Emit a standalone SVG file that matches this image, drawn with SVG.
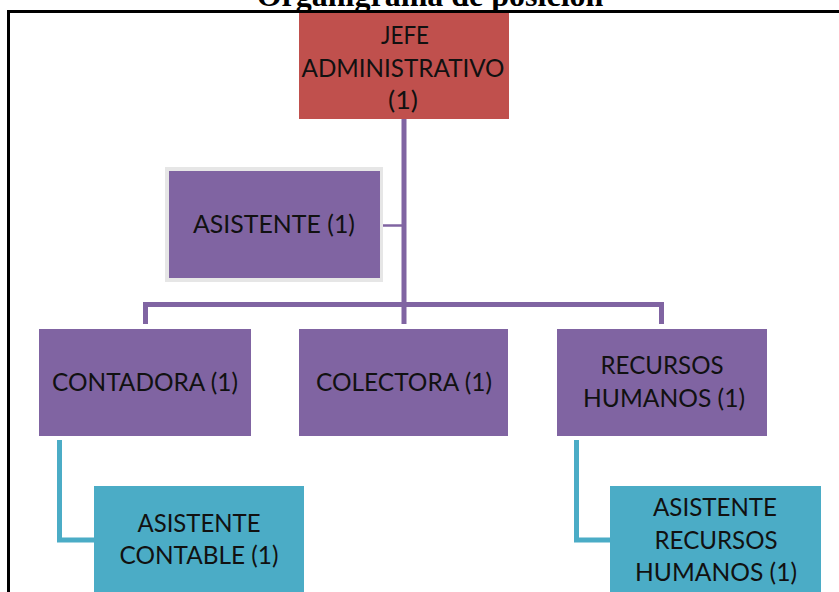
<svg xmlns="http://www.w3.org/2000/svg" width="839" height="592" viewBox="0 0 839 592">
<style>
.t{font-family:"Lato","Open Sans",sans-serif;font-size:25px;fill:#111;}
.red{fill:#C0504D;}
.pur{fill:#8064A2;}
.teal{fill:#4BACC6;}
.pl{stroke:#8064A2;stroke-width:5;fill:none;}
.tl{stroke:#4BACC6;stroke-width:5;fill:none;}
</style>
<rect width="839" height="592" fill="#fff"/>
<text x="430" y="6" text-anchor="middle" font-family="'Liberation Serif',serif" font-weight="bold" font-size="32" fill="#000">Organigrama de posición</text>
<path d="M8.5 592 V11.5 H839" stroke="#000" stroke-width="3" fill="none"/>
<g id="connectors">
<path class="pl" d="M404 119 V324"/>
<path class="pl" d="M145.5 324 V304.5 H661.5 V324"/>
<path d="M380 225.5 H404" stroke="#8064A2" stroke-width="2.5"/>
<path class="tl" d="M59.5 440 V540 H94"/>
<path class="tl" d="M576.5 440 V540 H610"/>
</g>
<g id="jefe">
<rect class="red" x="299" y="13" width="210" height="106"/>
<text class="t" x="405" y="44" text-anchor="middle" textLength="48" lengthAdjust="spacingAndGlyphs">JEFE</text>
<text class="t" x="403" y="77" text-anchor="middle" textLength="203" lengthAdjust="spacingAndGlyphs">ADMINISTRATIVO</text>
<text class="t" x="403" y="109" text-anchor="middle" textLength="30" lengthAdjust="spacingAndGlyphs">(1)</text>
</g>
<g id="asistente">
<rect x="165" y="167" width="218" height="115" fill="#e6e6e6"/>
<rect class="pur" x="169" y="171" width="211" height="107"/>
<text class="t" x="274" y="233" text-anchor="middle" textLength="162" lengthAdjust="spacingAndGlyphs">ASISTENTE (1)</text>
</g>
<g id="contadora">
<rect class="pur" x="39" y="329" width="212" height="107"/>
<text class="t" x="145" y="391" text-anchor="middle" textLength="186" lengthAdjust="spacingAndGlyphs">CONTADORA (1)</text>
</g>
<g id="colectora">
<rect class="pur" x="299" y="329" width="209" height="107"/>
<text class="t" x="404" y="391" text-anchor="middle" textLength="176" lengthAdjust="spacingAndGlyphs">COLECTORA (1)</text>
</g>
<g id="recursos">
<rect class="pur" x="557" y="329" width="210" height="107"/>
<text class="t" x="662" y="374" text-anchor="middle" textLength="123" lengthAdjust="spacingAndGlyphs">RECURSOS</text>
<text class="t" x="664" y="407" text-anchor="middle" textLength="162" lengthAdjust="spacingAndGlyphs">HUMANOS (1)</text>
</g>
<g id="asistente-contable">
<rect class="teal" x="94" y="486" width="210" height="106"/>
<text class="t" x="199" y="532" text-anchor="middle" textLength="123" lengthAdjust="spacingAndGlyphs">ASISTENTE</text>
<text class="t" x="199" y="564" text-anchor="middle" textLength="159" lengthAdjust="spacingAndGlyphs">CONTABLE (1)</text>
</g>
<g id="asistente-rh">
<rect class="teal" x="610" y="486" width="211" height="106"/>
<text class="t" x="715" y="516" text-anchor="middle" textLength="124" lengthAdjust="spacingAndGlyphs">ASISTENTE</text>
<text class="t" x="716" y="549" text-anchor="middle" textLength="123" lengthAdjust="spacingAndGlyphs">RECURSOS</text>
<text class="t" x="716" y="581" text-anchor="middle" textLength="162" lengthAdjust="spacingAndGlyphs">HUMANOS (1)</text>
</g>
</svg>
